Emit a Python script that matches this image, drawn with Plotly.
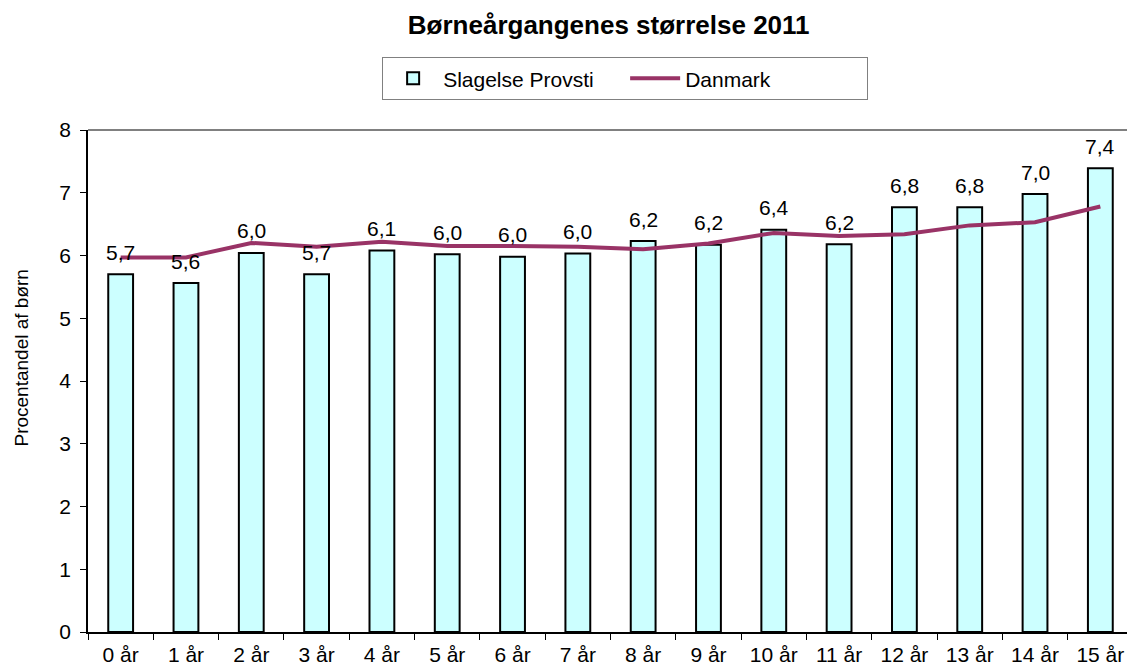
import plotly.graph_objects as go

categories = ["0 år", "1 år", "2 år", "3 år", "4 år", "5 år", "6 år", "7 år",
              "8 år", "9 år", "10 år", "11 år", "12 år", "13 år", "14 år", "15 år"]
slagelse = [5.70, 5.56, 6.04, 5.70, 6.08, 6.02, 5.98, 6.03,
            6.23, 6.17, 6.41, 6.18, 6.77, 6.77, 6.98, 7.39]
danmark = [5.97, 5.97, 6.20, 6.14, 6.22, 6.15, 6.15, 6.14,
           6.10, 6.19, 6.36, 6.31, 6.34, 6.48, 6.53, 6.78]

FONT = "Liberation Sans, Arial, sans-serif"
FS = 21

fig = go.Figure()
fig.add_trace(go.Bar(
    x=categories, y=slagelse, name="Slagelse Provsti",
    marker=dict(color="#CCFFFF", line=dict(color="black", width=2)),
    width=0.38,
))
fig.add_trace(go.Scatter(
    x=categories, y=danmark, name="Danmark", mode="lines",
    line=dict(color="#993366", width=4),
))

for c, v in zip(categories, slagelse):
    fig.add_annotation(
        x=c, y=v, text=f"{v:.1f}".replace(".", ","), showarrow=False,
        yanchor="middle", yshift=22, font=dict(family=FONT, size=FS, color="black"),
    )

fig.add_annotation(
    text="Procentandel af børn", xref="paper", yref="paper", x=-0.064, y=0.545,
    textangle=-90, showarrow=False, xanchor="center", yanchor="middle",
    font=dict(family=FONT, size=19, color="black"),
)

# the page body has an 8px margin, so the figure is reduced by that amount
fig.update_layout(
    width=1127, height=658,
    margin=dict(l=80, r=2, t=122, b=34),
    paper_bgcolor="white", plot_bgcolor="white",
    font=dict(family=FONT, size=FS, color="black"),
    title=dict(text="<b>Børneårgangenes størrelse 2011</b>", x=0.533, xanchor="center",
               y=0.974, yanchor="middle", font=dict(family=FONT, size=26, color="black")),
    showlegend=True,
    legend=dict(orientation="h", x=0.514, xanchor="center", y=1.145, yanchor="top",
                bordercolor="#808080", borderwidth=1, bgcolor="white",
                font=dict(family=FONT, size=FS), entrywidth=177, entrywidthmode="pixels",
                itemwidth=50, traceorder="normal"),
)
fig.update_xaxes(type="category", showline=True, linecolor="black", linewidth=1.5,
                 ticks="outside", ticklen=6, tickcolor="black", tickson="boundaries",
                 showgrid=False, tickfont=dict(family=FONT, size=FS), ticklabelstandoff=3,
                 automargin=False)
fig.update_yaxes(range=[0, 8], dtick=1, showline=True, linecolor="black", linewidth=1.5,
                 ticks="outside", ticklen=6, tickcolor="black", showgrid=False, zeroline=False,
                 tickfont=dict(family=FONT, size=FS), ticklabelstandoff=5, automargin=False)
fig.add_shape(type="line", xref="paper", yref="paper", x0=0, x1=1, y0=1, y1=1,
              line=dict(color="#808080", width=2))
fig.add_shape(type="line", xref="paper", yref="paper", x0=1, x1=1, y0=0, y1=1,
              line=dict(color="#808080", width=2))

fig.write_html("out.html")
